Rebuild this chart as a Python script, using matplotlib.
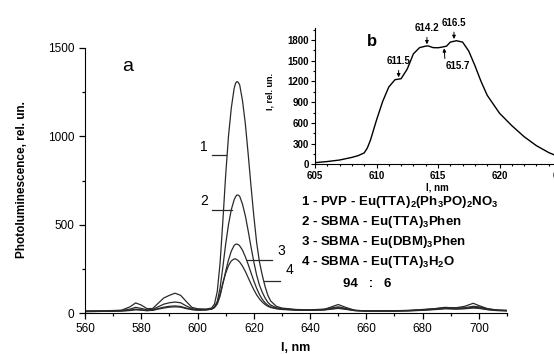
import matplotlib
matplotlib.use('Agg')
import matplotlib.pyplot as plt
from matplotlib.ticker import MultipleLocator

plt.rcParams['font.family'] = ['Liberation Sans', 'DejaVu Sans']
plt.rcParams['mathtext.fontset'] = 'custom'
plt.rcParams['mathtext.rm'] = 'Liberation Sans'
plt.rcParams['mathtext.bf'] = 'Liberation Sans:bold'
plt.rcParams['mathtext.default'] = 'bf'

# main spectra (wavelength, nm)
wl = [560, 565, 570, 573, 576, 578, 580, 582, 584, 586, 588, 590, 592, 594, 596, 598,
      600, 603, 605, 606, 607, 608, 609, 610, 611, 612, 613, 613.5, 614, 614.5, 615, 616,
      617, 618, 619, 620, 621, 622, 623, 624, 625, 626, 628, 630, 635, 640, 645, 650,
      653, 656, 660, 665, 670, 675, 680, 685, 688, 692, 695, 698, 700, 703, 706, 710]

curve1 = [12, 12, 14, 16, 35, 57, 45, 25, 25, 55, 85, 100, 112, 100, 65, 32,
          24, 22, 28, 50, 120, 280, 520, 780, 1000, 1160, 1270, 1300, 1310, 1305, 1290, 1200,
          1070, 900, 720, 550, 400, 290, 215, 150, 100, 68, 38, 28, 20, 18, 22, 35,
          25, 15, 12, 12, 13, 15, 20, 25, 30, 30, 38, 55, 42, 25, 18, 15]
curve2 = [10, 11, 12, 14, 22, 32, 26, 18, 20, 35, 50, 58, 62, 58, 40, 25,
          20, 20, 24, 35, 65, 140, 260, 390, 500, 585, 640, 658, 668, 667, 660, 615,
          550, 465, 375, 290, 215, 158, 118, 85, 60, 45, 30, 24, 18, 16, 20, 48,
          30, 15, 12, 12, 12, 14, 18, 26, 32, 28, 30, 38, 35, 24, 16, 14]
curve3 = [8, 9, 10, 12, 16, 22, 18, 14, 16, 25, 33, 38, 40, 37, 28, 20,
          17, 18, 22, 30, 50, 95, 165, 235, 300, 350, 382, 389, 390, 387, 380, 355,
          318, 275, 228, 182, 140, 105, 78, 58, 44, 35, 26, 22, 17, 15, 18, 30,
          22, 14, 11, 11, 11, 13, 16, 22, 26, 24, 26, 32, 30, 20, 15, 13]
curve4 = [8, 9, 10, 11, 14, 18, 16, 13, 15, 22, 28, 33, 35, 33, 25, 19,
          16, 17, 22, 32, 58, 105, 170, 225, 268, 295, 306, 306, 302, 296, 288, 265,
          235, 200, 165, 132, 103, 80, 62, 48, 38, 31, 24, 20, 16, 15, 17, 26,
          20, 13, 11, 11, 11, 12, 15, 20, 24, 22, 24, 28, 26, 19, 14, 12]

# curve number labels: text position and leader line ends
num_labels = ['1', '2', '3', '4']
num_text_x = [602.3, 602.3, 629.6, 632.8]
num_text_y = [940, 634, 351, 243]
lead_x0 = [605.1, 605.1, 617.5, 623.6]
lead_x1 = [610.1, 612.2, 626.4, 629.3]
lead_y = [894, 583, 300, 181]

# inset spectrum
wl_b = [605, 606, 607, 608, 608.5, 609, 609.25, 609.5, 610, 610.5, 611, 611.5, 612, 612.5,
        613, 613.5, 614, 614.2, 614.6, 615, 615.4, 615.7, 616, 616.5, 617, 617.5, 618,
        618.5, 619, 620, 621, 622, 623, 624, 625, 626]
int_b = [24, 40, 62, 100, 125, 165, 235, 345, 640, 910, 1120, 1225, 1240, 1380,
         1600, 1690, 1712, 1715, 1690, 1688, 1700, 1712, 1770, 1790, 1770, 1640, 1430,
         1200, 1000, 740, 560, 400, 270, 170, 95, 50]
peak_labels = ['611.5', '614.2', '615.7', '616.5']
peak_x = [611.8, 614.1, 615.5, 616.3]
peak_y = [1240, 1718, 1700, 1795]

legend_lines = [
    r'1 - PVP - Eu(TTA)$_2$(Ph$_3$PO)$_2$NO$_3$',
    r'2 - SBMA - Eu(TTA)$_3$Phen',
    r'3 - SBMA - Eu(DBM)$_3$Phen',
    r'4 - SBMA - Eu(TTA)$_3$H$_2$O',
]

W, H = 554, 354
fig = plt.figure(figsize=(W / 100, H / 100), dpi=100)
ax = fig.add_axes([85 / W, 41 / H, 422 / W, 265 / H])

lc = '#2a2a2a'
for c in [curve1, curve2, curve3, curve4]:
    ax.plot(wl, c, color=lc, lw=0.9)

for i in range(4):
    ax.plot([lead_x0[i], lead_x1[i]], [lead_y[i], lead_y[i]], color=lc, lw=0.9)
    ax.text(num_text_x[i], num_text_y[i], num_labels[i], fontsize=10,
            ha='center', va='center')

ax.set_xlim(560, 710)
ax.set_ylim(0, 1500)
ax.spines['top'].set_visible(False)
ax.spines['right'].set_visible(False)
ax.xaxis.set_major_locator(MultipleLocator(20))
ax.xaxis.set_minor_locator(MultipleLocator(10))
ax.yaxis.set_major_locator(MultipleLocator(500))
ax.yaxis.set_minor_locator(MultipleLocator(250))
ax.tick_params(which='major', direction='out', length=4, labelsize=8.5, width=0.9)
ax.tick_params(which='minor', direction='out', length=2.5, width=0.9)
ax.text(0.1, 0.93, 'a', transform=ax.transAxes, fontsize=14, va='center', ha='center')

fig.text(22 / W, 1 - 180 / H, 'Photoluminescence, rel. un.', rotation=90,
         fontsize=8.5, fontweight='bold', ha='center', va='center')
fig.text(296 / W, 1 - 348 / H, 'l, nm', fontsize=9, fontweight='bold',
         ha='center', va='center')

for i, s in enumerate(legend_lines):
    fig.text(301 / W, 1 - (202 + 20 * i) / H, s, fontsize=9.5, fontweight='bold',
             ha='left', va='center')
fig.text(343 / W, 1 - 284 / H, '94   :   6', fontsize=9.5, fontweight='bold',
         ha='left', va='center')

# inset b
axb = fig.add_axes([315 / W, (H - 164.3) / H, 246 / W, 136 / H])
axb.plot(wl_b, int_b, color='black', lw=1.0)
axb.set_xlim(605, 625)
axb.set_ylim(0, 1970)
axb.spines['top'].set_visible(False)
axb.xaxis.set_major_locator(MultipleLocator(5))
axb.xaxis.set_minor_locator(MultipleLocator(1))
axb.yaxis.set_major_locator(MultipleLocator(300))
axb.yaxis.set_minor_locator(MultipleLocator(150))
axb.tick_params(which='major', direction='out', length=3, labelsize=7, width=0.8, pad=1.5)
axb.tick_params(which='minor', direction='out', length=1.5, width=0.8)
for lbl in axb.get_xticklabels() + axb.get_yticklabels():
    lbl.set_fontweight('bold')
axb.text(0.23, 0.9, 'b', transform=axb.transAxes, fontsize=12, fontweight='bold',
         ha='center', va='center')

for i in range(4):
    if peak_labels[i] == '615.7':
        axb.annotate(peak_labels[i], xy=(peak_x[i], peak_y[i] - 20),
                     xytext=(peak_x[i] + 0.1, peak_y[i] - 280),
                     fontsize=7, fontweight='bold', ha='left', va='center',
                     arrowprops=dict(arrowstyle='-|>', color='black', lw=0.7,
                                     mutation_scale=5, shrinkA=0, shrinkB=0,
                                     relpos=(0.0, 0.5)))
    else:
        axb.annotate(peak_labels[i], xy=(peak_x[i], peak_y[i] + 20),
                     xytext=(peak_x[i], peak_y[i] + 180),
                     fontsize=7, fontweight='bold', ha='center', va='bottom',
                     arrowprops=dict(arrowstyle='-|>', color='black', lw=0.7,
                                     mutation_scale=5, shrinkA=1, shrinkB=0))

fig.text(270 / W, 1 - 92 / H, 'I, rel. un.', rotation=90, fontsize=6.5,
         fontweight='bold', ha='center', va='center')
fig.text(437 / W, 1 - 188 / H, 'l, nm', fontsize=7, fontweight='bold',
         ha='center', va='center')

fig.savefig('out.png', dpi=100)
